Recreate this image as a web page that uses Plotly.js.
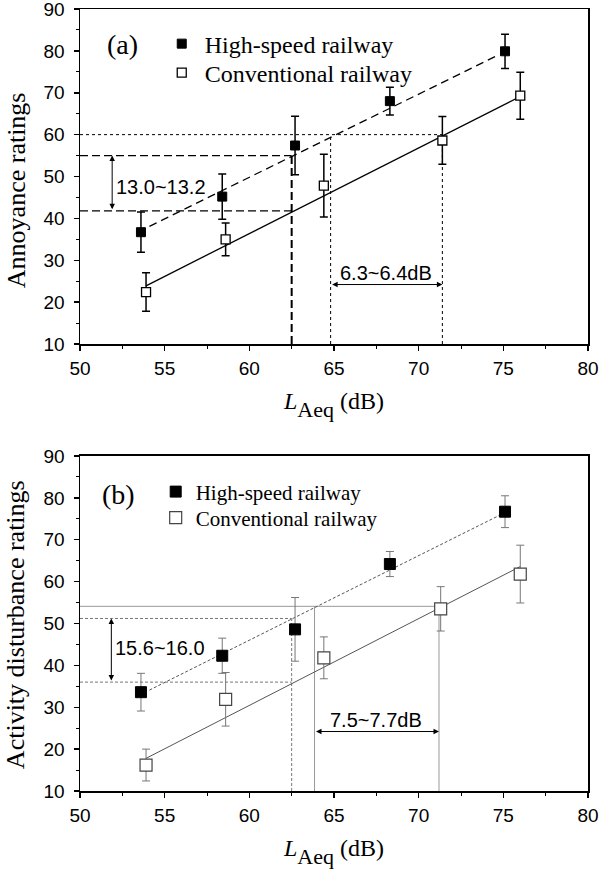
<!DOCTYPE html>
<html>
<head>
<meta charset="utf-8">
<script src="https://cdn.plot.ly/plotly-3.0.1.min.js"></script>
<style>html,body{margin:0;padding:0;background:#fff;}#chart{width:600px;height:871px;}</style>
</head>
<body>
<div id="chart"></div>
<script>
// ---------- shared axis data ----------
const xRange = [50, 80];
const yRange = [10, 90];
const xTickVals = [50, 55, 60, 65, 70, 75, 80];
const yTickVals = [10, 20, 30, 40, 50, 60, 70, 80, 90];
const seriesNames = ['High-speed railway', 'Conventional railway'];
const yTitles = ['Annoyance ratings', 'Activity disturbance ratings'];

// ---------- panel (a): annoyance ----------
const aHsrX = [53.6, 58.4, 62.7, 68.3, 75.1];
const aHsrY = [36.7, 45.2, 57.4, 68.0, 79.9];
const aHsrErr = [4.8, 5.4, 7.0, 3.3, 4.1];
const aConvX = [53.9, 58.6, 64.4, 71.4, 76.0];
const aConvY = [22.4, 35.0, 47.8, 58.6, 69.3];
const aConvErr = [4.6, 3.9, 7.5, 5.7, 5.6];
const aHsrFitX = [54.1, 74.6];
const aHsrFitY = [38.1, 78.8];
const aConvFitX = [53.9, 76.0];
const aConvFitY = [23.9, 69.1];
const aDiffX = 62.5;
const aDiffLevels = [55.0, 41.8];
const aLevel = 60;
const aLevelX = [64.8, 71.4];
const aArrowX = 51.9;
const aArrowY = 24.2;
const aLabels = ['(a)', '13.0~13.2', '6.3~6.4dB'];
const aLabelPos = [[52.5, 81.5], [54.8, 47.6], [68.1, 26.9]];

// ---------- panel (b): activity disturbance ----------
const bHsrX = [53.6, 58.4, 62.7, 68.3, 75.1];
const bHsrY = [33.6, 42.3, 48.6, 64.2, 76.7];
const bHsrErr = [4.5, 4.2, 7.6, 3.0, 3.8];
const bConvX = [53.9, 58.6, 64.4, 71.3, 76.0];
const bConvY = [16.2, 31.9, 41.8, 53.5, 61.8];
const bConvErr = [3.8, 6.4, 5.0, 5.3, 6.9];
const bHsrFitX = [54.1, 75.0];
const bHsrFitY = [34.1, 76.3];
const bConvFitX = [53.9, 76.0];
const bConvFitY = [17.8, 63.6];
const bDiffX = 62.5;
const bDiffLevels = [51.2, 36.0];
const bLevel = 54.1;
const bLevelX = [63.85, 71.2];
const bArrowX = 51.85;
const bArrowY = 24.2;
const bLabels = ['(b)', '15.6~16.0', '7.5~7.7dB'];
const bLabelPos = [[52.3, 80.9], [54.7, 44.1], [67.5, 27.0]];

// ---------- helpers ----------
function seg(x, y, xa, ya, color, width, dash) {
  return {x: x, y: y, xaxis: xa, yaxis: ya, mode: 'lines', showlegend: false, hoverinfo: 'skip',
          line: {color: color, width: width, dash: dash}};
}

const traces = [];

// panel (a) reference lines
aDiffLevels.forEach(v => traces.push(seg([xRange[0], aDiffX], [v, v], 'x', 'y', '#000', 1.3, '8px,4px')));
traces.push(seg([aDiffX, aDiffX], [yRange[0], aDiffLevels[0]], 'x', 'y', '#000', 2, '8px,4px'));
traces.push(seg([xRange[0], aLevelX[1]], [aLevel, aLevel], 'x', 'y', '#000', 1, 'dot'));
aLevelX.forEach(v => traces.push(seg([v, v], [yRange[0], aLevel], 'x', 'y', '#000', 1, 'dot')));
// panel (a) fits
traces.push(seg(aHsrFitX, aHsrFitY, 'x', 'y', '#000', 1.3, '8px,5px'));
traces.push(seg(aConvFitX, aConvFitY, 'x', 'y', '#000', 1.3, 'solid'));
// panel (a) data
traces.push({x: aHsrX, y: aHsrY, xaxis: 'x', yaxis: 'y', mode: 'markers', name: seriesNames[0], legend: 'legend',
  marker: {symbol: 'square', size: 9, color: '#000', line: {color: '#000', width: 1}},
  error_y: {type: 'data', array: aHsrErr, visible: true, color: '#000', thickness: 1.5, width: 4}});
traces.push({x: aConvX, y: aConvY, xaxis: 'x', yaxis: 'y', mode: 'markers', name: seriesNames[1], legend: 'legend2',
  marker: {symbol: 'square', size: 9, color: '#fff', line: {color: '#000', width: 1.3}},
  error_y: {type: 'data', array: aConvErr, visible: true, color: '#000', thickness: 1.5, width: 4}});

// panel (b) reference lines
traces.push(seg([xRange[0], bLevelX[1]], [bLevel, bLevel], 'x2', 'y2', '#999', 1, 'solid'));
bLevelX.forEach(v => traces.push(seg([v, v], [yRange[0], bLevel], 'x2', 'y2', '#999', 1, 'solid')));
bDiffLevels.forEach(v => traces.push(seg([xRange[0], bDiffX], [v, v], 'x2', 'y2', '#777', 1, '3px,2px')));
traces.push(seg([bDiffX, bDiffX], [yRange[0], bDiffLevels[0]], 'x2', 'y2', '#777', 1, '3px,2px'));
// panel (b) fits
traces.push(seg(bHsrFitX, bHsrFitY, 'x2', 'y2', '#555', 1, '3px,2px'));
traces.push(seg(bConvFitX, bConvFitY, 'x2', 'y2', '#555', 1, 'solid'));
// panel (b) data
traces.push({x: bHsrX, y: bHsrY, xaxis: 'x2', yaxis: 'y2', mode: 'markers', name: seriesNames[0], legend: 'legend3',
  marker: {symbol: 'square', size: 11, color: '#000', line: {color: '#000', width: 1}},
  error_y: {type: 'data', array: bHsrErr, visible: true, color: '#777', thickness: 1, width: 4}});
traces.push({x: bConvX, y: bConvY, xaxis: 'x2', yaxis: 'y2', mode: 'markers', name: seriesNames[1], legend: 'legend4',
  marker: {symbol: 'square', size: 12, color: '#fff', line: {color: '#444', width: 1.2}},
  error_y: {type: 'data', array: bConvErr, visible: true, color: '#777', thickness: 1, width: 4}});

// ---------- layout ----------
const serif = 'Liberation Serif, Times New Roman, serif';
const sans = 'Liberation Sans, Arial, sans-serif';
const xTitle = '<i>L</i><span style="font-size:22px;baseline-shift:-8px">Aeq</span> (dB)';

function xAxis(anchor) {
  return {anchor: anchor, domain: [0, 1], range: xRange, tickvals: xTickVals, ticktext: xTickVals.map(String),
    showline: true, linecolor: '#000', linewidth: 1.5, mirror: true, showgrid: false, zeroline: false,
    ticks: 'outside', ticklen: 5, tickwidth: 1.5, tickcolor: '#000', ticklabelstandoff: 2, ticklabeloverflow: 'allow',
    minor: {dtick: 2.5, ticks: 'outside', ticklen: 3, tickwidth: 1, tickcolor: '#000'},
    tickfont: {family: sans, size: 19, color: '#000'},
    title: {text: xTitle, font: {family: serif, size: 24, color: '#000'}, standoff: 14}};
}
function yAxis(anchor, domain) {
  return {anchor: anchor, domain: domain, range: yRange, tickvals: yTickVals, ticktext: yTickVals.map(String),
    showline: true, linecolor: '#000', linewidth: 1.5, mirror: true, showgrid: false, zeroline: false,
    ticks: 'outside', ticklen: 5, tickwidth: 1.5, tickcolor: '#000', ticklabelstandoff: 5, ticklabeloverflow: 'allow',
    minor: {dtick: 5, ticks: 'outside', ticklen: 3, tickwidth: 1, tickcolor: '#000'},
    tickfont: {family: sans, size: 19, color: '#000'}};
}

function arrow(xa, ya, x, y, ax, ay) {
  return {xref: xa, yref: ya, axref: xa, ayref: ya, x: x, y: y, ax: ax, ay: ay, text: '',
    showarrow: true, arrowhead: 2, arrowside: 'end+start', arrowsize: 1.1, arrowwidth: 1, arrowcolor: '#000',
    standoff: 0, startstandoff: 0};
}
function label(xa, ya, pos, text, font) {
  return {xref: xa, yref: ya, x: pos[0], y: pos[1], text: text, showarrow: false, font: font};
}
function yTitle(text, yc) {
  return {xref: 'paper', yref: 'paper', x: -0.1257, y: yc, xanchor: 'center', yanchor: 'middle',
    text: text, textangle: -90, showarrow: false, font: {family: serif, size: 26, color: '#000'}};
}

const annotations = [
  yTitle(yTitles[0], 0.7685),
  yTitle(yTitles[1], 0.2123),
  label('x', 'y', aLabelPos[0], aLabels[0], {family: serif, size: 28, color: '#000'}),
  label('x', 'y', aLabelPos[1], aLabels[1], {family: sans, size: 20, color: '#000'}),
  label('x', 'y', aLabelPos[2], aLabels[2], {family: sans, size: 20, color: '#000'}),
  arrow('x', 'y', aArrowX, aDiffLevels[0], aArrowX, aDiffLevels[1]),
  arrow('x', 'y', aLevelX[1], aArrowY, aLevelX[0], aArrowY),
  label('x2', 'y2', bLabelPos[0], bLabels[0], {family: serif, size: 28, color: '#000'}),
  label('x2', 'y2', bLabelPos[1], bLabels[1], {family: sans, size: 20, color: '#000'}),
  label('x2', 'y2', bLabelPos[2], bLabels[2], {family: sans, size: 20, color: '#000'}),
  arrow('x2', 'y2', bArrowX, bDiffLevels[0], bArrowX, bDiffLevels[1]),
  arrow('x2', 'y2', bLevelX[1], bArrowY, bLevelX[0], bArrowY)
];

function legendAt(x, y, size, itemwidth) {
  return {x: x, y: y, xanchor: 'left', yanchor: 'middle', bgcolor: 'rgba(0,0,0,0)', borderwidth: 0,
    itemwidth: itemwidth, font: {family: serif, size: size, color: '#000'}};
}

const layout = {
  width: 600, height: 871,
  margin: {l: 80, r: 12, t: 9, b: 80},
  paper_bgcolor: '#fff', plot_bgcolor: '#fff',
  showlegend: true,
  xaxis: xAxis('y'),
  yaxis: yAxis('x', [0.5716, 1]),
  xaxis2: xAxis('y2'),
  yaxis2: yAxis('x2', [0, 0.4284]),
  legend: legendAt(0.155, 0.9552, 24, 36),
  legend2: legendAt(0.155, 0.9182, 24, 36),
  legend3: legendAt(0.149, 0.3824, 21, 30),
  legend4: legendAt(0.149, 0.3491, 21, 30),
  annotations: annotations
};

Plotly.newPlot('chart', traces, layout, {displayModeBar: false, staticPlot: true});
</script>
</body>
</html>
